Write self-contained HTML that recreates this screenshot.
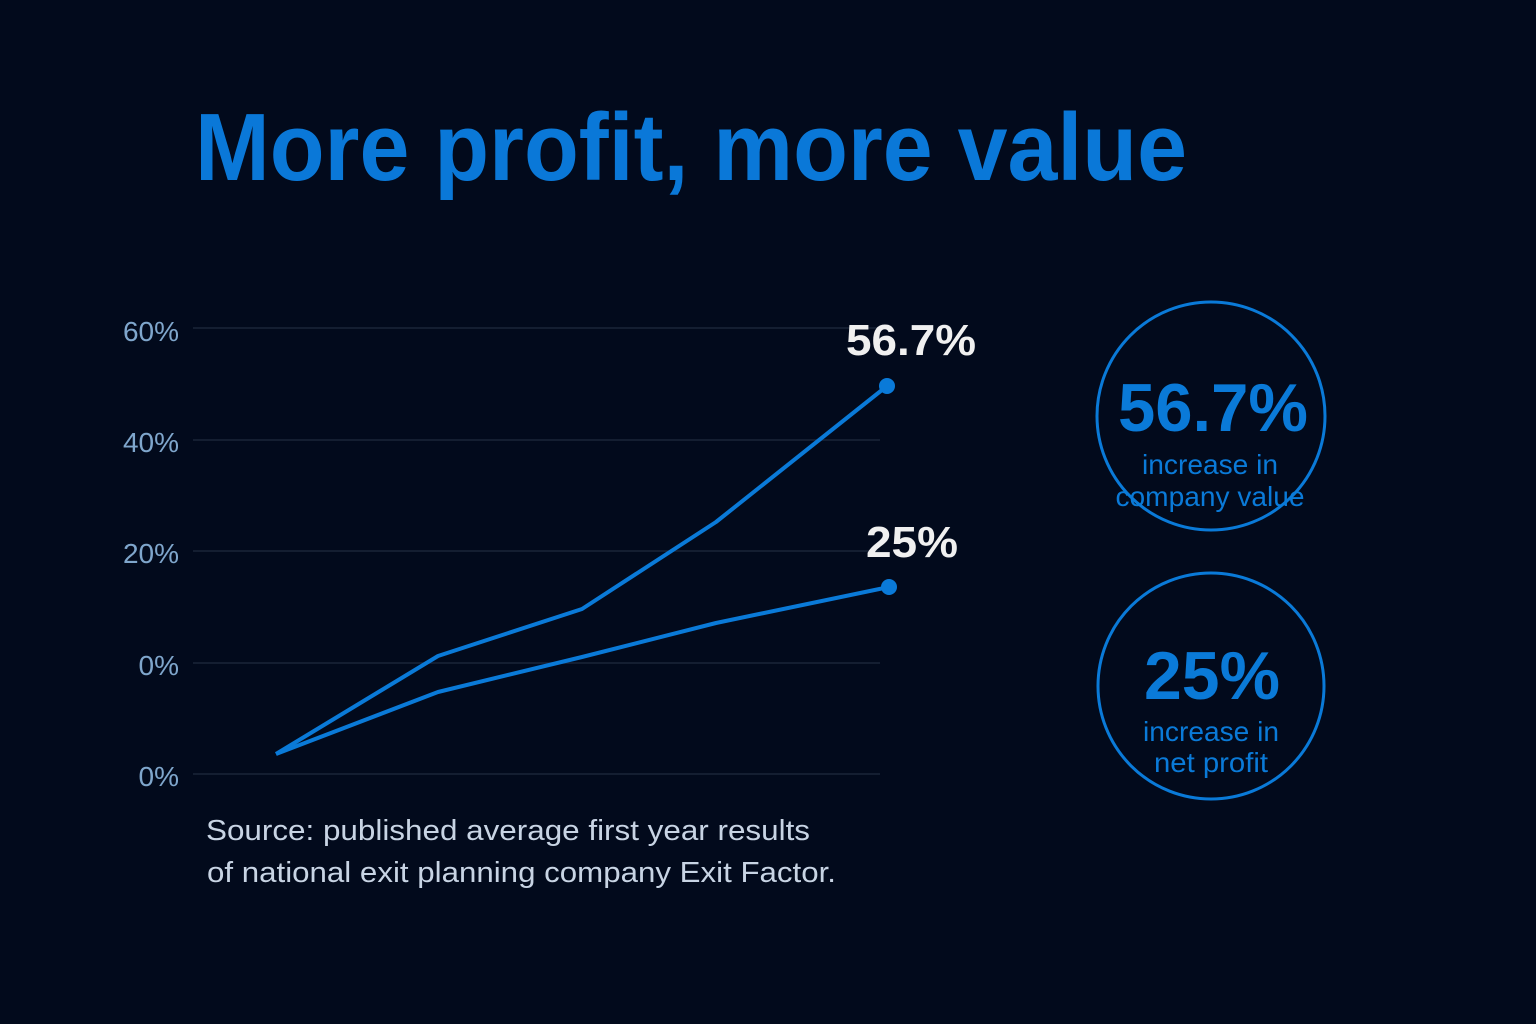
<!DOCTYPE html>
<html><head><meta charset="utf-8"><style>
html,body{margin:0;padding:0;background:#020a1c;}
svg{display:block}
</style></head><body>
<svg width="1536" height="1024" viewBox="0 0 1536 1024" xmlns="http://www.w3.org/2000/svg" font-family="Liberation Sans, sans-serif">
<rect width="1536" height="1024" fill="#020a1c"/>
<text x="195" y="180" font-size="96" font-weight="bold" fill="#0a78d8" textLength="992" lengthAdjust="spacingAndGlyphs">More profit, more value</text>
<g stroke="#1a2438" stroke-width="1.5">
<line x1="193" y1="328" x2="880" y2="328"/>
<line x1="193" y1="440" x2="880" y2="440"/>
<line x1="193" y1="551" x2="880" y2="551"/>
<line x1="193" y1="663" x2="880" y2="663"/>
<line x1="193" y1="774" x2="880" y2="774"/>
</g>
<g fill="#7fa6cc" font-size="28" text-anchor="end">
<text x="179" y="341">60%</text>
<text x="179" y="452">40%</text>
<text x="179" y="563">20%</text>
<text x="179" y="675">0%</text>
<text x="179" y="786">0%</text>
</g>
<g fill="none" stroke="#0a7ad8" stroke-width="4" stroke-linejoin="round">
<polyline points="276,754 438,656 582,609 716,522 887,386"/>
<polyline points="276,754 438,692 582,657 716,623 889,587"/>
</g>
<circle cx="887" cy="386" r="8" fill="#0a7ad8"/>
<circle cx="889" cy="587" r="8" fill="#0a7ad8"/>
<text x="846" y="355" font-size="44" font-weight="bold" fill="#f0f0f0" textLength="130" lengthAdjust="spacingAndGlyphs">56.7%</text>
<text x="866" y="557" font-size="44" font-weight="bold" fill="#f0f0f0" textLength="92" lengthAdjust="spacingAndGlyphs">25%</text>
<g fill="none" stroke="#0a7ad8" stroke-width="3">
<circle cx="1211" cy="416" r="114"/>
<circle cx="1211" cy="686" r="113"/>
</g>
<g fill="#0a7ad8" text-anchor="middle">
<text x="1213" y="431" font-size="68" font-weight="bold" textLength="190" lengthAdjust="spacingAndGlyphs">56.7%</text>
<text x="1210" y="474" font-size="28" textLength="136" lengthAdjust="spacingAndGlyphs">increase in</text>
<text x="1210" y="506" font-size="28" textLength="189" lengthAdjust="spacingAndGlyphs">company value</text>
<text x="1212" y="699" font-size="68" font-weight="bold" textLength="136" lengthAdjust="spacingAndGlyphs">25%</text>
<text x="1211" y="741" font-size="28" textLength="136" lengthAdjust="spacingAndGlyphs">increase in</text>
<text x="1211" y="772" font-size="28" textLength="114" lengthAdjust="spacingAndGlyphs">net profit</text>
</g>
<g fill="#c8d4e4" font-size="29">
<text x="206" y="840" textLength="604" lengthAdjust="spacingAndGlyphs">Source: published average first year results</text>
<text x="207" y="882" textLength="629" lengthAdjust="spacingAndGlyphs">of national exit planning company Exit Factor.</text>
</g>
</svg>
</body></html>
